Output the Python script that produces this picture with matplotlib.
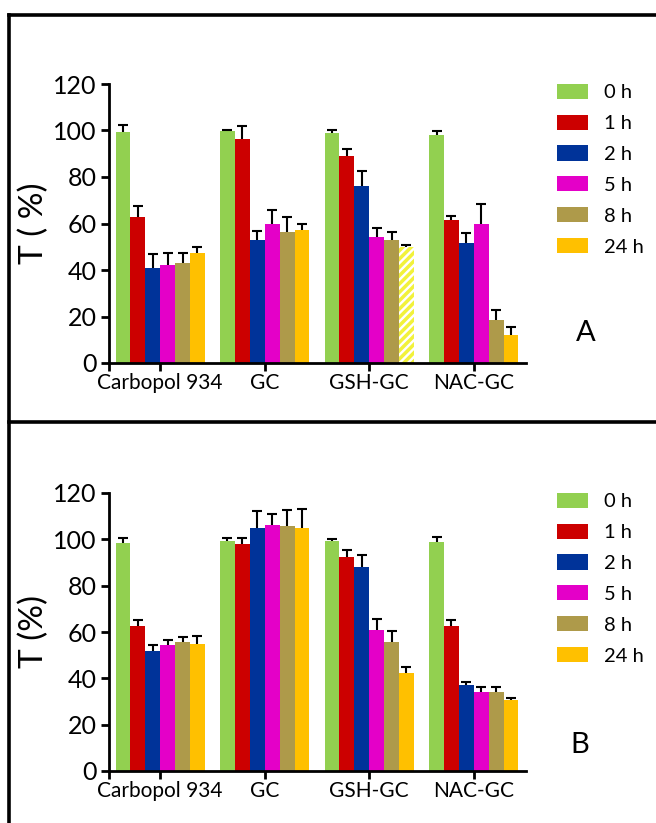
import matplotlib
matplotlib.use("Agg")
import matplotlib.pyplot as plt
import numpy as np
from matplotlib.patches import Patch
from matplotlib.lines import Line2D

plt.rcParams['font.family'] = ['Lato', 'DejaVu Sans']
plt.rcParams['hatch.linewidth'] = 2.5

categories = ["Carbopol 934", "GC", "GSH-GC", "NAC-GC"]
times = ["0 h", "1 h", "2 h", "5 h", "8 h", "24 h"]
colors = ["#92D050", "#CC0000", "#003399", "#E400C8", "#AE9A4A", "#FFC000"]

# Panel A: mean values per time point (rows) for each formulation (columns)
A_0h = [99.3, 99.8, 99.0, 97.9]
A_1h = [62.9, 96.3, 89.1, 61.7]
A_2h = [41.0, 53.0, 76.2, 51.8]
A_5h = [42.3, 59.7, 54.1, 60.0]
A_8h = [43.1, 56.3, 52.8, 18.7]
A_24h = [47.5, 57.1, 49.7, 11.9]
A_err_0h = [3.2, 0.5, 1.0, 2.0]
A_err_1h = [4.7, 5.6, 2.9, 1.6]
A_err_2h = [5.9, 3.7, 6.3, 4.2]
A_err_5h = [4.9, 6.2, 4.0, 8.2]
A_err_8h = [4.4, 6.3, 3.5, 4.1]
A_err_24h = [2.3, 2.5, 1.1, 3.5]

# Panel B
B_0h = [98.4, 99.4, 99.1, 98.7]
B_1h = [62.5, 98.1, 92.5, 62.5]
B_2h = [52.0, 105.0, 87.9, 37.3]
B_5h = [54.6, 106.2, 60.9, 34.1]
B_8h = [55.6, 105.7, 55.6, 34.3]
B_24h = [54.7, 105.0, 42.4, 30.7]
B_err_0h = [2.1, 1.0, 0.9, 2.3]
B_err_1h = [2.8, 2.4, 2.9, 2.6]
B_err_2h = [2.6, 7.2, 5.3, 1.3]
B_err_5h = [1.9, 4.6, 4.8, 2.1]
B_err_8h = [2.2, 6.9, 4.9, 2.0]
B_err_24h = [3.4, 8.1, 2.3, 0.6]

A_vals = [A_0h, A_1h, A_2h, A_5h, A_8h, A_24h]
A_errs = [A_err_0h, A_err_1h, A_err_2h, A_err_5h, A_err_8h, A_err_24h]
B_vals = [B_0h, B_1h, B_2h, B_5h, B_8h, B_24h]
B_errs = [B_err_0h, B_err_1h, B_err_2h, B_err_5h, B_err_8h, B_err_24h]

W, H = 656, 823
fig = plt.figure(figsize=(W / 100, H / 100), dpi=100)

def fx(px):
    return px / W
def fy(py):
    return 1 - py / H

# outer frame lines
for xs, ys in [([fx(9), fx(9)], [fy(15), fy(823)]),
               ([fx(9), 1.0], [fy(15), fy(15)]),
               ([fx(9), 1.0], [fy(422), fy(422)])]:
    fig.add_artist(Line2D(xs, ys, color="black", lw=2.6, transform=fig.transFigure))

x = np.arange(len(categories))
bw = 0.1425
x_lo, x_hi = -0.49, 3.5

def draw(ax, vals, errs, hatch_idx=None, ylabel="T (%)"):
    for i, (v, e) in enumerate(zip(vals, errs)):
        pos = x + (i - 2.5) * bw
        for j in range(len(categories)):
            hatched = hatch_idx is not None and (i, j) == hatch_idx
            if hatched:
                ax.bar(pos[j], v[j], bw, color="white", edgecolor="#F2F23A",
                       hatch="////", linewidth=0, zorder=2)
            else:
                ax.bar(pos[j], v[j], bw, color=colors[i], linewidth=0, zorder=2)
        eb = ax.errorbar(pos, v, yerr=[np.zeros(len(v)), e], fmt="none",
                         ecolor="black", elinewidth=1.5, capsize=3.5,
                         capthick=1.5, zorder=3)
        caps = eb.lines[1]
        if len(caps) > 0:
            caps[0].set_visible(False)
    ax.set_xlim(x_lo, x_hi)
    ax.set_ylim(0, 120)
    ax.set_yticks(np.arange(0, 121, 20))
    ax.set_xticks(x)
    ax.set_xticks([x_lo], minor=True)
    ax.set_xticklabels(categories, fontsize=15)
    ax.tick_params(axis="y", labelsize=18, width=2, length=6, pad=3)
    ax.tick_params(axis="x", which="both", width=2, length=6, pad=1)
    for s in ["top", "right"]:
        ax.spines[s].set_visible(False)
    for s in ["left", "bottom"]:
        ax.spines[s].set_linewidth(2)
    ax.set_ylabel(ylabel, fontsize=24, labelpad=3)
    handles = [Patch(facecolor=c, edgecolor="none") for c in colors]
    ax.legend(handles, times, loc="upper left", bbox_to_anchor=(1.055, 1.03),
              frameon=False, fontsize=14.5, handlelength=1.55, handleheight=0.78,
              handletextpad=0.8, labelspacing=0.66, borderaxespad=0)

axA = fig.add_axes([fx(109), fy(363), fx(526) - fx(109), fy(84) - fy(363)])
draw(axA, A_vals, A_errs, hatch_idx=(5, 2), ylabel="T ( %)")

axB = fig.add_axes([fx(109), fy(771), fx(526) - fx(109), fy(493) - fy(771)])
draw(axB, B_vals, B_errs, ylabel="T (%)")

fig.text(fx(586), fy(333), "A", fontsize=21, ha="center", va="center")
fig.text(fx(580), fy(745), "B", fontsize=21, ha="center", va="center")

fig.savefig("out.png", dpi=100)
